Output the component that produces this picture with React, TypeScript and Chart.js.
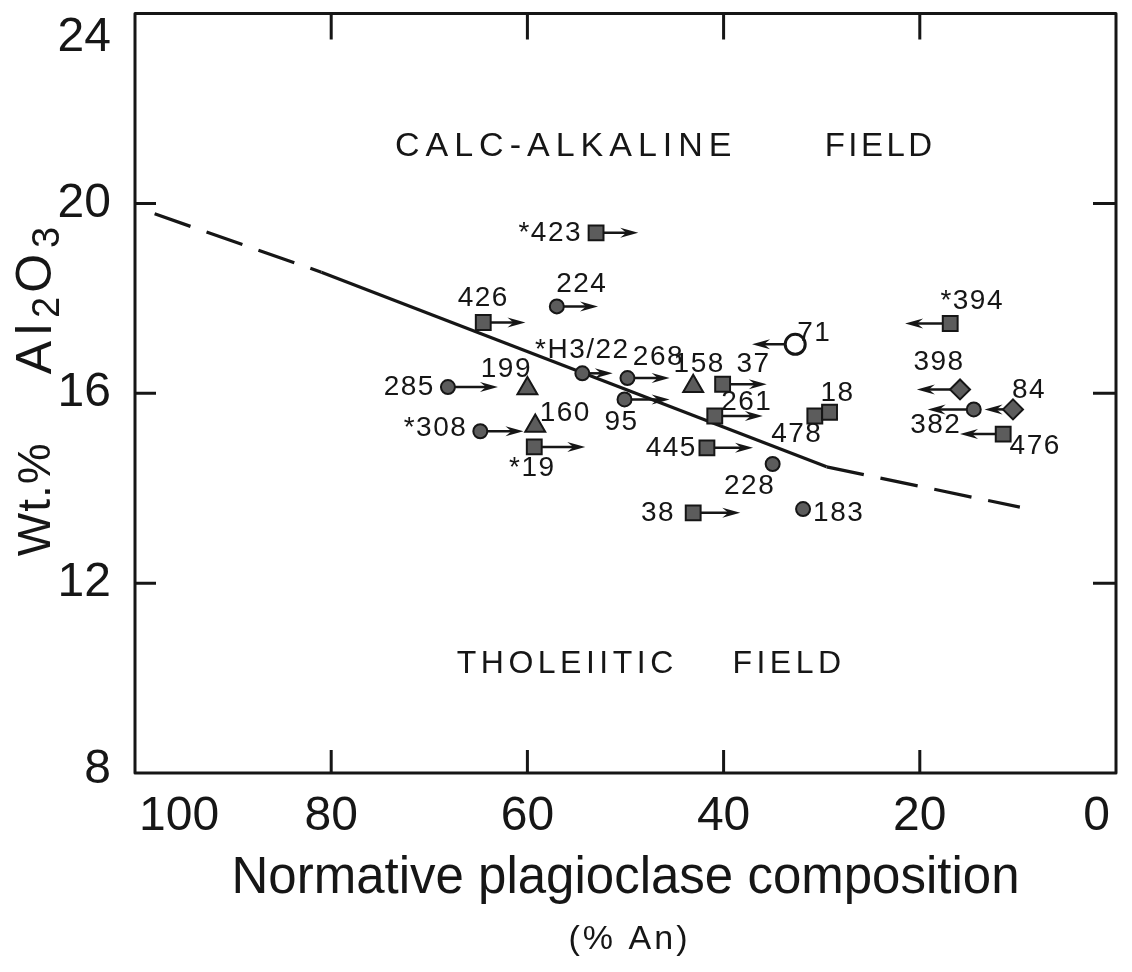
import React, { useEffect, useRef } from "react";
import { Chart, registerables } from "chart.js";

Chart.register(...registerables);

// ---------- data ----------
// circles
const circleIds = ["224", "*H3/22", "268", "285", "95", "*308", "228", "183", "382"];
const circleAn = [57.0, 54.4, 49.8, 68.1, 50.1, 64.8, 35.0, 31.9, 14.5];
const circleAl = [17.83, 16.42, 16.32, 16.13, 15.87, 15.2, 14.51, 13.56, 15.66];
const circleArrowTo: (number | null)[] = [52.8, 51.3, 45.5, 63.0, 45.5, 60.4, null, null, 19.2];

// squares
const squareIds = ["*423", "426", "37", "261", "*19", "445", "38", "478", "18", "*394", "476"];
const squareAn = [53.0, 64.5, 40.1, 40.9, 59.3, 41.7, 43.1, 30.7, 29.2, 16.9, 11.5];
const squareAl = [19.38, 17.49, 16.19, 15.52, 14.87, 14.85, 13.48, 15.52, 15.6, 17.47, 15.14];
const squareArrowTo: (number | null)[] = [48.7, 60.2, 35.6, 36.0, 54.1, 37.0, 38.3, null, null, 21.5, 15.9];

// triangles
const triangleIds = ["199", "158", "160"];
const triangleAn = [60.0, 43.1, 59.2];
const triangleAl = [16.1, 16.15, 15.31];
const triangleArrowTo: (number | null)[] = [null, null, null];

// diamonds
const diamondIds = ["398", "84"];
const diamondAn = [15.9, 10.5];
const diamondAl = [16.08, 15.66];
const diamondArrowTo: (number | null)[] = [20.3, 13.4];

// open circle
const openIds = ["71"];
const openAn = [32.7];
const openAl = [17.03];
const openArrowTo: (number | null)[] = [37.1];

// dividing line (dashed - solid - dashed)
const trendAn = [98.0, 81.0, 29.5, 9.8];
const trendAl = [19.78, 18.55, 14.45, 13.6];

// axes
const xTickValues = [0, 20, 40, 60, 80, 100];
const yTickValues = [8, 12, 16, 20, 24];
const xTitle = "Normative plagioclase composition";
const xSubTitle = "(% An)";
const yTitleParts = ["Wt.%", "Al", "2", "O", "3"];

// field names
const fieldWords = ["CALC-ALKALINE", "FIELD", "THOLEIITIC", "FIELD"];

// ---------- layout / style ----------
const FONT = '"Liberation Sans", Arial, sans-serif';
const INK = "#161616";
const FILL = "#5c5c5c";

// label offsets in px: [dx, dy, align]
const labelPlacement: Record<string, [number, number, CanvasTextAlign]> = {
  "*423": [-14, 0, "right"],
  "224": [25, -22, "center"],
  "426": [0, -24, "center"],
  "*H3/22": [0, -23, "center"],
  "268": [31, -21, "center"],
  "285": [-13, 0, "right"],
  "199": [-21, -19, "center"],
  "158": [6, -22, "center"],
  "37": [31, -20, "center"],
  "95": [-3, 23, "center"],
  "261": [32, -14, "center"],
  "160": [30, -13, "center"],
  "*308": [-13, -3, "right"],
  "*19": [-2, 21, "center"],
  "445": [-10, 0, "right"],
  "228": [-23, 22, "center"],
  "38": [-18, 0, "right"],
  "183": [10, 4, "left"],
  "478": [-18, 18, "center"],
  "18": [8, -19, "center"],
  "71": [19, -11, "center"],
  "*394": [22, -22, "center"],
  "398": [-21, -27, "center"],
  "382": [-38, 16, "center"],
  "84": [16, -19, "center"],
  "476": [32, 12, "center"],
};

// field word anchors (left edge) in data units: [An, Al2O3, fontSize, letterSpacing]
const fieldAnchors: [number, number, number, number][] = [
  [73.5, 21.2, 34, 6],
  [29.7, 21.2, 33, 3.5],
  [67.2, 10.3, 32, 4.5],
  [39.1, 10.3, 32, 4.5],
];

const groups = [
  { ids: circleIds, an: circleAn, al: circleAl, arrow: circleArrowTo, style: "circle", radius: 7, bg: FILL, bw: 2 },
  { ids: squareIds, an: squareAn, al: squareAl, arrow: squareArrowTo, style: "rect", radius: 10.5, bg: FILL, bw: 2 },
  { ids: triangleIds, an: triangleAn, al: triangleAl, arrow: triangleArrowTo, style: "triangle", radius: 11.5, bg: FILL, bw: 2 },
  { ids: diamondIds, an: diamondAn, al: diamondAl, arrow: diamondArrowTo, style: "rectRot", radius: 10, bg: FILL, bw: 2 },
  { ids: openIds, an: openAn, al: openAl, arrow: openArrowTo, style: "circle", radius: 10, bg: "#ffffff", bw: 3 },
];

function drawArrow(ctx: CanvasRenderingContext2D, x0: number, x1: number, y: number) {
  const dir = Math.sign(x1 - x0);
  ctx.beginPath();
  ctx.moveTo(x0, y);
  ctx.lineTo(x1 - dir * 8, y);
  ctx.stroke();
  ctx.beginPath();
  ctx.moveTo(x1, y);
  ctx.lineTo(x1 - dir * 18, y - 5);
  ctx.lineTo(x1 - dir * 12, y);
  ctx.lineTo(x1 - dir * 18, y + 5);
  ctx.closePath();
  ctx.fill();
}

const overlay = {
  id: "overlay",
  beforeDatasetsDraw(chart: any) {
    const { ctx, scales } = chart;
    const x = scales.x, y = scales.y;
    ctx.save();
    ctx.strokeStyle = INK;
    ctx.fillStyle = INK;
    ctx.lineWidth = 2.5;
    for (const g of groups) {
      g.an.forEach((a, i) => {
        const t = g.arrow[i];
        if (t == null) return;
        drawArrow(ctx, x.getPixelForValue(a), x.getPixelForValue(t), y.getPixelForValue(g.al[i]));
      });
    }
    ctx.restore();
  },
  afterDatasetsDraw(chart: any) {
    const { ctx, scales } = chart;
    const x = scales.x, y = scales.y;
    ctx.save();
    ctx.fillStyle = INK;
    ctx.textBaseline = "middle";
    ctx.font = `28px ${FONT}`;
    (ctx as any).letterSpacing = "1.5px";
    for (const g of groups) {
      g.ids.forEach((id, i) => {
        const p = labelPlacement[id] || [12, 0, "left"];
        ctx.textAlign = p[2];
        ctx.fillText(id, x.getPixelForValue(g.an[i]) + p[0], y.getPixelForValue(g.al[i]) + p[1]);
      });
    }
    fieldWords.forEach((w, i) => {
      const [a, v, size, ls] = fieldAnchors[i];
      ctx.font = `${size}px ${FONT}`;
      (ctx as any).letterSpacing = `${ls}px`;
      ctx.textAlign = "left";
      ctx.fillText(w, x.getPixelForValue(a), y.getPixelForValue(v));
    });
    ctx.restore();
  },
  afterDraw(chart: any) {
    const { ctx, chartArea, scales } = chart;
    const x = scales.x, y = scales.y;
    const { left, right, top, bottom } = chartArea;
    ctx.save();
    ctx.strokeStyle = INK;
    ctx.lineWidth = 3;
    ctx.lineJoin = "round";
    ctx.strokeRect(left, top, right - left, bottom - top);
    ctx.beginPath();
    for (const v of yTickValues) {
      if (v === y.min || v === y.max) continue;
      const py = y.getPixelForValue(v);
      ctx.moveTo(left, py);
      ctx.lineTo(left + 21, py);
      ctx.moveTo(right, py);
      ctx.lineTo(right - 23, py);
    }
    for (const v of xTickValues) {
      if (v === x.min || v === x.max) continue;
      const px = x.getPixelForValue(v);
      ctx.moveTo(px, bottom);
      ctx.lineTo(px, bottom - 23);
      ctx.moveTo(px, top);
      ctx.lineTo(px, top + 26);
    }
    ctx.stroke();

    ctx.fillStyle = INK;
    // y tick labels
    ctx.font = `48px ${FONT}`;
    ctx.textAlign = "right";
    ctx.textBaseline = "middle";
    for (const v of yTickValues) {
      const py = Math.max(y.getPixelForValue(v), top + 24);
      ctx.fillText(String(v), left - 24, Math.min(py, bottom - 3));
    }
    // x tick labels
    ctx.textBaseline = "alphabetic";
    for (const v of xTickValues) {
      const px = x.getPixelForValue(v);
      let align: CanvasTextAlign = "center";
      let dx = 0;
      if (v === x.max) { align = "left"; dx = 4; }
      if (v === x.min) { align = "right"; dx = -6; }
      ctx.textAlign = align;
      ctx.fillText(String(v), px + dx, bottom + 57);
    }
    // x sub-title
    ctx.font = `34px ${FONT}`;
    (ctx as any).letterSpacing = "3px";
    ctx.textAlign = "center";
    ctx.textBaseline = "middle";
    ctx.fillText(xSubTitle, (left + right) / 2 + 4, 940);
    // y title (rotated, with subscripts)
    ctx.save();
    const cy = (top + bottom) / 2;
    ctx.translate(37, cy + 163);
    ctx.rotate(-Math.PI / 2);
    ctx.textAlign = "left";
    ctx.textBaseline = "middle";
    let pos = 0;
    const parts: [string, number, number, number][] = [
      // text, size, baseline shift, letterSpacing
      [yTitleParts[0], 46, 0, 1],
      [yTitleParts[1], 50, 0, 6],
      [yTitleParts[2], 38, 12, 4],
      [yTitleParts[3], 50, 0, 6],
      [yTitleParts[4], 38, 12, 0],
    ];
    parts.forEach(([t, size, shift, ls], i) => {
      ctx.font = `${size}px ${FONT}`;
      (ctx as any).letterSpacing = `${ls}px`;
      ctx.fillText(t, pos, shift);
      pos += ctx.measureText(t).width;
      if (i === 0) pos += 68;
    });
    ctx.restore();
    ctx.restore();
  },
};

export default function App() {
  const ref = useRef<HTMLCanvasElement | null>(null);
  useEffect(() => {
    if (!ref.current) return;
    Chart.defaults.font.family = FONT;
    const datasets: any[] = groups.map((g) => ({
      data: g.an.map((a, i) => ({ x: a, y: g.al[i] })),
      pointStyle: g.style,
      pointRadius: g.radius,
      backgroundColor: g.bg,
      borderColor: INK,
      pointBorderWidth: g.bw,
      borderWidth: g.bw,
      order: 1,
    }));
    datasets.push({
      type: "line",
      data: trendAn.map((a, i) => ({ x: a, y: trendAl[i] })),
      showLine: true,
      pointRadius: 0,
      borderColor: INK,
      borderWidth: 3.2,
      fill: false,
      order: 5,
      segment: {
        borderDash: (c: any) => (c.p0DataIndex === 1 ? [] : [38, 17]),
      },
    });
    const chart = new Chart(ref.current, {
      type: "scatter",
      data: { datasets },
      options: {
        responsive: false,
        animation: false,
        devicePixelRatio: 1,
        layout: { padding: { left: 0, right: 16, top: 11, bottom: 0 } },
        plugins: {
          legend: { display: false },
          tooltip: { enabled: false },
          title: { display: false },
        },
        scales: {
          x: {
            type: "linear",
            min: 0,
            max: 100,
            reverse: true,
            grid: { display: false },
            border: { display: false },
            ticks: { stepSize: 20, display: false },
            title: {
              display: true,
              text: xTitle,
              color: INK,
              font: { family: FONT, size: 51 },
              padding: { top: 0, bottom: 62 },
            },
            afterFit: (s: any) => {
              s.height = 199;
              s.paddingLeft = 0;
              s.paddingRight = 0;
            },
          },
          y: {
            type: "linear",
            min: 8,
            max: 24,
            grid: { display: false },
            border: { display: false },
            ticks: { stepSize: 4, display: false },
            title: { display: false },
            afterFit: (s: any) => {
              s.width = 135;
              s.paddingTop = 0;
              s.paddingBottom = 0;
            },
          },
        },
      } as any,
      plugins: [overlay],
    });
    return () => chart.destroy();
  }, []);
  return (
    <div style={{ position: "absolute", left: 0, top: 0, width: 1132, height: 972, background: "#fff" }}>
      <canvas ref={ref} width={1132} height={972} style={{ display: "block" }} />
    </div>
  );
}
